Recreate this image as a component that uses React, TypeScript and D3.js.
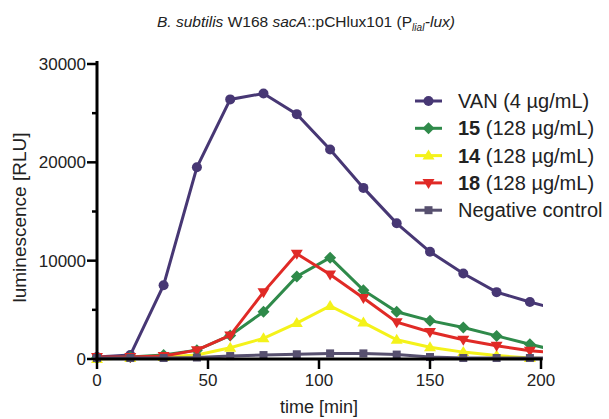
import * as React from "react";
import * as d3 from "d3";

// time points (min); 210 lies past the axis end and is clipped away
const times = [0, 15, 30, 45, 60, 75, 90, 105, 120, 135, 150, 165, 180, 195, 210];

const van = [200, 400, 7500, 19500, 26400, 27000, 24900, 21300, 17400, 13800, 10900, 8700, 6800, 5800, 4900];
const c15 = [100, 200, 400, 900, 2400, 4800, 8400, 10300, 7000, 4800, 3900, 3200, 2350, 1500, 700];
const c14 = [0, 100, 200, 400, 1150, 2100, 3650, 5400, 3700, 1950, 1200, 700, 350, 100, 0];
const c18 = [200, 200, 300, 900, 2400, 6800, 10700, 8600, 6200, 3750, 2750, 1950, 1350, 850, 550];
const negative = [100, 100, 100, 150, 300, 400, 480, 570, 570, 450, 200, 100, 100, 100, 100];

const xTicks = [0, 50, 100, 150, 200];
const yTicks = [0, 10000, 20000, 30000];
const yMinorTicks = [5000, 15000, 25000];

const series = [
  { bold: "", label: "VAN (4 µg/mL)", values: van, color: "#473774", marker: "circle" },
  { bold: "15", label: " (128 µg/mL)", values: c15, color: "#2f8a4a", marker: "diamond" },
  { bold: "14", label: " (128 µg/mL)", values: c14, color: "#f4f21a", marker: "up" },
  { bold: "18", label: " (128 µg/mL)", values: c18, color: "#e02a26", marker: "down" },
  { bold: "", label: "Negative control", values: negative, color: "#57506f", marker: "square" },
];

// negative control drawn last so it sits on top
const drawOrder = [0, 2, 1, 3, 4];

const width = 609;
const height = 419;
const left = 97;
const right = 541;
const top = 64;
const bottom = 359;

const Marker = ({ type, x, y, color }: { type: string; x: number; y: number; color: string }) => {
  if (type === "circle") return <circle cx={x} cy={y} r={5} fill={color} />;
  if (type === "square") return <rect x={x - 4} y={y - 4} width={8} height={8} fill={color} />;
  if (type === "diamond")
    return <path d={`M${x},${y - 6}L${x + 6},${y}L${x},${y + 6}L${x - 6},${y}Z`} fill={color} />;
  if (type === "up")
    return <path d={`M${x},${y - 6}L${x + 6},${y + 4}L${x - 6},${y + 4}Z`} fill={color} />;
  return <path d={`M${x},${y + 6}L${x + 6},${y - 4}L${x - 6},${y - 4}Z`} fill={color} />;
};

export default function App() {
  const x = d3.scaleLinear().domain([0, 200]).range([left, right]);
  const y = d3.scaleLinear().domain([0, 30000]).range([bottom, top]);
  const line = d3
    .line<number>()
    .x((_, i) => x(times[i]))
    .y((d) => y(d));

  const font = "Liberation Sans, Arial, sans-serif";

  return (
    <svg width={width} height={height} style={{ position: "absolute", left: 0, top: 0 }} fontFamily={font}>
      <defs>
        <clipPath id="plot">
          <rect x={left - 10} y={top - 20} width={right - left + 12} height={bottom - top + 40} />
        </clipPath>
      </defs>
      <text x={306} y={27} textAnchor="middle" fontSize={15.5} fill="#222">
        <tspan fontStyle="italic">B. subtilis</tspan> W168 <tspan fontStyle="italic">sacA</tspan>::pCHlux101 (P
        <tspan fontStyle="italic" fontSize={10} dy={4}>liaI</tspan>
        <tspan fontStyle="italic" dy={-4}>-lux)</tspan>
      </text>

      <g clipPath="url(#plot)">
        {drawOrder.map((si) => {
          const s = series[si];
          return (
            <g key={s.label + si}>
              <path d={line(s.values) || ""} fill="none" stroke={s.color} strokeWidth={3} />
              {s.values.map((v, i) =>
                times[i] <= 200 ? (
                  <Marker key={i} type={s.marker} x={x(times[i])} y={y(v)} color={s.color} />
                ) : null
              )}
            </g>
          );
        })}
      </g>

      {/* axes */}
      <line x1={left} x2={left} y1={top - 3} y2={bottom + 1.5} stroke="#000" strokeWidth={3} />
      <line x1={left - 1.5} x2={right + 1.5} y1={bottom} y2={bottom} stroke="#000" strokeWidth={3} />
      {yTicks.map((t) => (
        <g key={t}>
          <line x1={left - 10} x2={left} y1={y(t)} y2={y(t)} stroke="#000" strokeWidth={2.5} />
          <text x={left - 11} y={y(t) + 6} textAnchor="end" fontSize={17} fill="#222">
            {t}
          </text>
        </g>
      ))}
      {yMinorTicks.map((t) => (
        <line key={t} x1={left - 5} x2={left} y1={y(t)} y2={y(t)} stroke="#000" strokeWidth={2.5} />
      ))}
      {xTicks.map((t) => (
        <g key={t}>
          <line x1={x(t)} x2={x(t)} y1={bottom} y2={bottom + 10} stroke="#000" strokeWidth={2.5} />
          <text x={x(t)} y={bottom + 27} textAnchor="middle" fontSize={17} fill="#222">
            {t}
          </text>
        </g>
      ))}
      <text x={319} y={413} textAnchor="middle" fontSize={18} fill="#222">
        time [min]
      </text>
      <text
        transform={`translate(26,${(top + bottom) / 2 + 6}) rotate(-90)`}
        textAnchor="middle"
        fontSize={19}
        fill="#222"
      >
        luminescence [RLU]
      </text>

      {/* legend */}
      {series.map((s, i) => {
        const ly = 101 + i * 27.3;
        return (
          <g key={"leg" + i}>
            <line x1={415} x2={442} y1={ly} y2={ly} stroke={s.color} strokeWidth={3} />
            <Marker type={s.marker} x={428.5} y={ly} color={s.color} />
            <text x={458} y={ly + 7} fontSize={20} fill="#222">
              {s.bold ? <tspan fontWeight="bold">{s.bold}</tspan> : null}
              {s.label}
            </text>
          </g>
        );
      })}
    </svg>
  );
}
